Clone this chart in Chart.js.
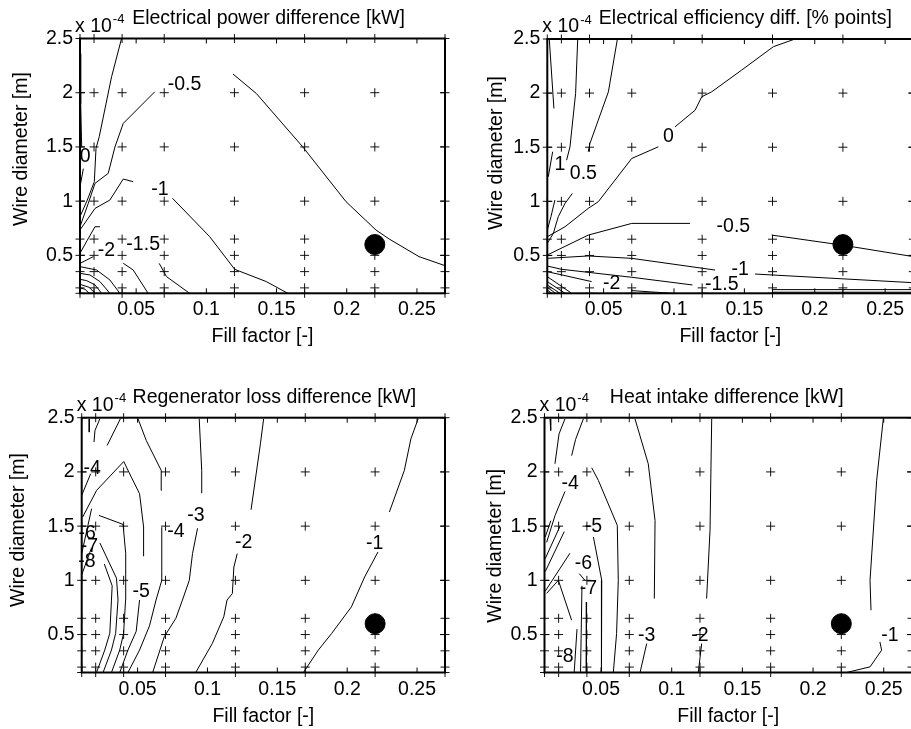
<!DOCTYPE html>
<html>
<head>
<meta charset="utf-8">
<script src="https://cdn.jsdelivr.net/npm/chart.js@4.4.1/dist/chart.umd.min.js"></script>
<style>
  html, body { margin: 0; padding: 0; background: #fff; overflow: hidden; width: 911px; height: 729px; }
  canvas { position: absolute; }
</style>
</head>
<body>
<canvas id="powerChart" width="456" height="365" style="left:0;top:0"></canvas>
<canvas id="effChart" width="470" height="365" style="left:456px;top:0"></canvas>
<canvas id="regenChart" width="456" height="364" style="left:0;top:365px"></canvas>
<canvas id="heatChart" width="470" height="364" style="left:456px;top:365px"></canvas>
<script>
// sample grid (fill factor x wire diameter in 1e-4 m)
const fillGrid = [0.01, 0.02, 0.04, 0.07, 0.12, 0.17, 0.22, 0.27];
const wireGrid = [0.15, 0.2, 0.35, 0.5, 0.65, 1, 1.5, 2, 2.5];
const xTicks = [0.05, 0.1, 0.15, 0.2, 0.25];
const yTicks = [0.5, 1, 1.5, 2, 2.5];
const designPoint = [0.22, 0.6];

// contour polylines, [fill factor, wire diameter]
const powerLines = [
  [[0.0396, 2.5], [0.0325, 2.147], [0.0237, 1.594], [0.0214, 1.486], [0.0202, 1.179], [0.0152, 1.01], [0.01, 0.857]],
  [[0.01, 2.36], [0.0105, 1.9], [0.0112, 1.5]],
  [[0.0124, 1.3], [0.01, 1.133]],
  [[0.0633, 2.009], [0.0408, 1.717], [0.0349, 1.5], [0.0301, 1.256], [0.0207, 1.164], [0.0159, 0.98], [0.01, 0.764]],
  [[0.119, 2.172], [0.1356, 1.993], [0.1687, 1.5], [0.1995, 0.995], [0.2208, 0.734], [0.2302, 0.651], [0.2515, 0.488], [0.27, 0.405]],
  [[0.0759, 1.026], [0.1024, 0.672], [0.1202, 0.371], [0.1427, 0.258], [0.158, 0.15]],
  [[0.0479, 1.179], [0.0408, 1.204], [0.0313, 1.01], [0.0207, 0.933], [0.01, 0.734]],
  [[0.0664, 0.426], [0.0716, 0.304], [0.0881, 0.15]],
  [[0.0242, 0.764], [0.0207, 0.764], [0.0152, 0.64], [0.01, 0.519]],
  [[0.0585, 0.15], [0.0479, 0.365], [0.0408, 0.427]],
  [[0.0195, 0.488], [0.01, 0.426]],
  [[0.0384, 0.15], [0.0313, 0.273], [0.0218, 0.365], [0.01, 0.396]],
  [[0.0313, 0.15], [0.0242, 0.258], [0.0171, 0.319], [0.01, 0.334]],
  [[0.0254, 0.15], [0.0207, 0.227], [0.0147, 0.267], [0.01, 0.279]],
  [[0.0207, 0.15], [0.0166, 0.205], [0.01, 0.233]],
  [[0.0166, 0.15], [0.0136, 0.187], [0.01, 0.2]]
];
const powerLabels = [
  ['0', 0.0136, 1.41], ['-0.5', 0.0845, 2.07], ['-1', 0.0669, 1.102],
  ['-1.5', 0.055, 0.595], ['-2', 0.0289, 0.543]
];

const effLines = [
  [[0.0114, 2.5], [0.0147, 1.858]],
  [[0.0316, 2.5], [0.0301, 1.996], [0.0261, 1.502], [0.0237, 1.38]],
  [[0.0154, 1.012], [0.0126, 0.858], [0.01, 0.735]],
  [[0.0138, 1.458], [0.0107, 1.227]],
  [[0.0598, 2.5], [0.0534, 2.012], [0.0462, 1.75], [0.0403, 1.535], [0.0391, 1.458]],
  [[0.0278, 1.073], [0.0226, 0.981], [0.0178, 0.858], [0.0143, 0.704], [0.01, 0.612]],
  [[0.186, 2.5], [0.1706, 2.429], [0.1481, 2.213], [0.1268, 2.012], [0.1197, 1.966], [0.115, 1.842], [0.1007, 1.688]],
  [[0.0889, 1.504], [0.07, 1.396], [0.0462, 0.996], [0.0391, 0.935], [0.0226, 0.765], [0.01, 0.673]],
  [[0.01, 0.504], [0.0391, 0.688], [0.07, 0.796], [0.1114, 0.796]],
  [[0.1694, 0.688], [0.2192, 0.596], [0.27, 0.489]],
  [[0.01, 0.473], [0.0391, 0.495], [0.07, 0.473], [0.1292, 0.365]],
  [[0.1576, 0.328], [0.27, 0.248]],
  [[0.01, 0.402], [0.02, 0.372], [0.07, 0.298], [0.1131, 0.227]],
  [[0.1695, 0.184], [0.27, 0.184]],
  [[0.01, 0.35], [0.0415, 0.258]],
  [[0.07, 0.175], [0.0984, 0.15]],
  [[0.1695, 0.16], [0.27, 0.16]],
  [[0.01, 0.304], [0.0273, 0.15]],
  [[0.01, 0.258], [0.0226, 0.15]],
  [[0.01, 0.227], [0.019, 0.15]],
  [[0.01, 0.205], [0.0159, 0.15]],
  [[0.01, 0.181], [0.0131, 0.15]]
];
const effLabels = [
  ['1', 0.019, 1.335], ['0.5', 0.0356, 1.258], ['0', 0.096, 1.596], ['-0.5', 0.1422, 0.765],
  ['-1', 0.147, 0.372], ['-1.5', 0.1339, 0.227], ['-2', 0.0557, 0.242]
];

const regenLines = [
  [[0.0154, 2.49], [0.0154, 2.367]],
  [[0.023, 2.49], [0.0195, 2.382], [0.0188, 2.275]],
  [[0.0377, 2.49], [0.0282, 2.244]],
  [[0.01, 1.783], [0.0164, 1.983]],
  [[0.0206, 0.15], [0.0265, 0.357], [0.0301, 0.511], [0.0313, 0.818], [0.0318, 0.95], [0.0262, 1.15]],
  [[0.0253, 0.15], [0.0313, 0.357], [0.0343, 0.511], [0.036, 0.818], [0.0349, 1.02], [0.023, 1.345]],
  [[0.0313, 0.15], [0.0372, 0.357], [0.04, 0.511], [0.0414, 0.818], [0.0415, 1.246], [0.0396, 1.516], [0.0223, 1.599]],
  [[0.0372, 0.15], [0.0431, 0.357], [0.049, 0.53], [0.0514, 0.818]],
  [[0.0543, 1.222], [0.0543, 1.492], [0.0514, 1.799], [0.0455, 1.952], [0.0401, 2.096], [0.0207, 1.83], [0.0107, 1.584]],
  [[0.0431, 0.15], [0.0514, 0.357], [0.0585, 0.58], [0.0632, 0.818], [0.0673, 1.0], [0.0673, 1.49]],
  [[0.0673, 1.83], [0.0669, 2.014], [0.0562, 2.29], [0.0503, 2.49]],
  [[0.0608, 0.15], [0.0691, 0.48], [0.0774, 0.65], [0.0821, 0.818], [0.087, 1.0], [0.0893, 1.246], [0.0929, 1.48]],
  [[0.0957, 1.805], [0.0959, 2.014], [0.0941, 2.49]],
  [[0.0916, 0.15], [0.1034, 0.416], [0.1117, 0.664], [0.114, 0.818], [0.1178, 0.878], [0.1189, 1.123], [0.1213, 1.246]],
  [[0.1312, 1.651], [0.1379, 2.259], [0.1402, 2.49]],
  [[0.1687, 0.15], [0.1793, 0.356], [0.1888, 0.509], [0.203, 0.755], [0.2125, 1.031], [0.222, 1.261]],
  [[0.2302, 1.63], [0.2409, 2.014], [0.2456, 2.305], [0.2508, 2.49]],
  [[0.01, 1.246], [0.0171, 1.661]],
  [[0.01, 1.05], [0.017, 1.3]]
];
const regenLabels = [
  ['-4', 0.0175, 2.03], ['-6', 0.014, 1.43], ['-7', 0.0155, 1.31], ['-8', 0.0137, 1.17],
  ['-5', 0.0526, 0.893], ['-4', 0.0775, 1.446], ['-3', 0.0917, 1.6], ['-2', 0.126, 1.344], ['-1', 0.2196, 1.338]
];

const heatLines = [
  [[0.0139, 2.49], [0.0144, 2.382]],
  [[0.0245, 2.49], [0.0203, 2.351], [0.0174, 2.075]],
  [[0.0375, 2.49], [0.032, 2.3], [0.0292, 2.15]],
  [[0.0245, 1.82], [0.0175, 1.6], [0.0115, 1.35]],
  [[0.0145, 1.55], [0.0105, 1.4]],
  [[0.021, 1.5], [0.0105, 1.2]],
  [[0.024, 1.45], [0.0105, 1.08]],
  [[0.028, 1.25], [0.0105, 0.9]],
  [[0.074, 2.49], [0.0834, 2.075], [0.0882, 1.553], [0.0877, 0.832]],
  [[0.1283, 2.49], [0.1271, 1.461], [0.1247, 0.832]],
  [[0.2497, 2.49], [0.245, 1.922], [0.2403, 1.0], [0.241, 0.724]],
  [[0.0434, 2.038], [0.0481, 1.922], [0.0615, 1.507], [0.0622, 1.0], [0.061, 0.509], [0.0587, 0.15]],
  [[0.0446, 1.4], [0.0505, 1.0], [0.0503, 0.15]],
  [[0.0346, 1.062], [0.0386, 1.0]],
  [[0.0398, 0.8], [0.0396, 0.15]],
  [[0.0198, 1.0], [0.0292, 0.632]],
  [[0.033, 0.55], [0.031, 0.15]],
  [[0.0365, 0.95], [0.0355, 0.15]],
  [[0.0823, 0.417], [0.0776, 0.15]],
  [[0.1212, 0.417], [0.1188, 0.15]],
  [[0.2473, 0.432], [0.2485, 0.356], [0.2403, 0.202], [0.2237, 0.15]],
  [[0.0115, 0.88], [0.0198, 1.0]]
];
const heatLabels = [
  ['-4', 0.0281, 1.891], ['-5', 0.0446, 1.492], ['-6', 0.0375, 1.154], ['-7', 0.041, 0.924],
  ['-8', 0.0245, 0.294], ['-3', 0.0823, 0.494], ['-2', 0.12, 0.494], ['-1', 0.2544, 0.494]
];

const FONT = '"Liberation Sans", Arial, Helvetica, sans-serif';
const FONT_SIZE = 19.5;
Chart.defaults.font.family = FONT;
Chart.defaults.font.size = FONT_SIZE;
Chart.defaults.color = '#000';

// page placement of each canvas and of its plot box
const panels = [
  { id: 'powerChart', left: 0, top: 0, box: [80, 38.5, 446, 293.3],
    title: 'Electrical power difference [kW]', titleDx: 6, yTitleDx: 53, yTitleDy: 110.5,
    lines: powerLines, labels: powerLabels },
  { id: 'effChart', left: 456, top: 0, box: [547.3, 39, 913.3, 293.3],
    title: 'Electrical efficiency diff. [% points]', titleDx: 15, yTitleDx: 45, yTitleDy: 114,
    lines: effLines, labels: effLabels },
  { id: 'regenChart', left: 0, top: 365, box: [81.7, 417.7, 447.7, 672.5],
    title: 'Regenerator loss difference [kW]', titleDx: 11, yTitleDx: 57.7, yTitleDy: 112.3,
    lines: regenLines, labels: regenLabels },
  { id: 'heatChart', left: 456, top: 365, box: [544.5, 417.7, 912, 672.5],
    title: 'Heat intake difference [kW]', titleDx: -1.5, yTitleDx: 44, yTitleDy: 128,
    lines: heatLines, labels: heatLabels }
];

const Y_SCALE_W = 60;
const X_SCALE_H = 40;

const frame = {
  id: 'frame',
  afterDatasetsDraw(chart, args, opts) {
    const { ctx, chartArea: a, scales: { x, y } } = chart;
    ctx.save();
    ctx.strokeStyle = '#000';
    ctx.lineWidth = 1;
    ctx.beginPath();
    xTicks.forEach(v => {
      const px = x.getPixelForValue(v);
      ctx.moveTo(px, a.bottom); ctx.lineTo(px, a.bottom - 5);
      ctx.moveTo(px, a.top); ctx.lineTo(px, a.top + 5);
    });
    yTicks.forEach(v => {
      const py = y.getPixelForValue(v);
      ctx.moveTo(a.left, py); ctx.lineTo(a.left + 5, py);
      ctx.moveTo(a.right, py); ctx.lineTo(a.right - 5, py);
    });
    ctx.stroke();
    ctx.lineWidth = 2;
    ctx.strokeRect(a.left, a.top, a.right - a.left, a.bottom - a.top);

    // contour level labels
    ctx.fillStyle = '#000';
    ctx.font = FONT_SIZE + 'px ' + FONT;
    ctx.textAlign = 'center';
    ctx.textBaseline = 'middle';
    opts.labels.forEach(([t, lx, ly]) => {
      ctx.fillText(t, x.getPixelForValue(lx), y.getPixelForValue(ly));
    });

    // titles
    const cx = (a.left + a.right) / 2;
    ctx.textBaseline = 'alphabetic';
    ctx.fillText(opts.title, cx + opts.titleDx, a.top - 15);
    ctx.fillText('Fill factor [-]', cx, a.bottom + 49);
    ctx.save();
    ctx.translate(a.left - opts.yTitleDx, a.top + opts.yTitleDy);
    ctx.rotate(-Math.PI / 2);
    ctx.fillText('Wire diameter [m]', 0, 0);
    ctx.restore();

    // axis multiplier
    ctx.textAlign = 'left';
    ctx.fillText('x 10', a.left - 5, a.top - 7);
    const w = ctx.measureText('x 10').width;
    ctx.font = '13px ' + FONT;
    ctx.fillText('-4', a.left - 5 + w + 1, a.top - 15.5);
    ctx.restore();
  }
};

panels.forEach(p => {
  const canvas = document.getElementById(p.id);
  const W = canvas.width, H = canvas.height;
  const [bl, bt, br, bb] = p.box;
  const grid = [];
  fillGrid.forEach(fx => wireGrid.forEach(wy => grid.push({ x: fx, y: wy })));

  const datasets = [
    { data: [{ x: designPoint[0], y: designPoint[1] }], pointRadius: 10, pointBackgroundColor: '#000',
      pointBorderColor: '#000', showLine: false, clip: false },
    ...p.lines.map(line => ({
      data: line.map(([lx, ly]) => ({ x: lx, y: ly })),
      showLine: true, borderColor: '#000', borderWidth: 1, pointRadius: 0, tension: 0
    })),
    { data: grid, pointStyle: 'cross', pointRadius: 4.5, pointBorderColor: '#111',
      pointBorderWidth: 1, showLine: false, clip: false }
  ];

  new Chart(canvas, {
    type: 'scatter',
    data: { datasets },
    options: {
      responsive: false,
      animation: false,
      events: [],
      layout: {
        padding: {
          left: bl - p.left - Y_SCALE_W,
          top: bt - p.top,
          right: W - (br - p.left),
          bottom: H - (bb - p.top) - X_SCALE_H
        }
      },
      plugins: {
        legend: { display: false },
        tooltip: { enabled: false },
        frame: { title: p.title, titleDx: p.titleDx, yTitleDx: p.yTitleDx, yTitleDy: p.yTitleDy, labels: p.labels }
      },
      scales: {
        x: {
          type: 'linear', min: 0.01, max: 0.27,
          afterBuildTicks: s => { s.ticks = xTicks.map(v => ({ value: v })); },
          afterFit: s => { s.height = X_SCALE_H; },
          ticks: { padding: 5, maxRotation: 0, callback: v => String(v) },
          grid: { display: false, drawTicks: false },
          border: { display: false }
        },
        y: {
          type: 'linear', min: 0.15, max: 2.5,
          afterBuildTicks: s => { s.ticks = yTicks.map(v => ({ value: v })); },
          afterFit: s => { s.width = Y_SCALE_W; },
          ticks: { padding: 7, callback: v => String(v) },
          grid: { display: false, drawTicks: false },
          border: { display: false }
        }
      }
    },
    plugins: [frame]
  });
});
</script>
</body>
</html>
